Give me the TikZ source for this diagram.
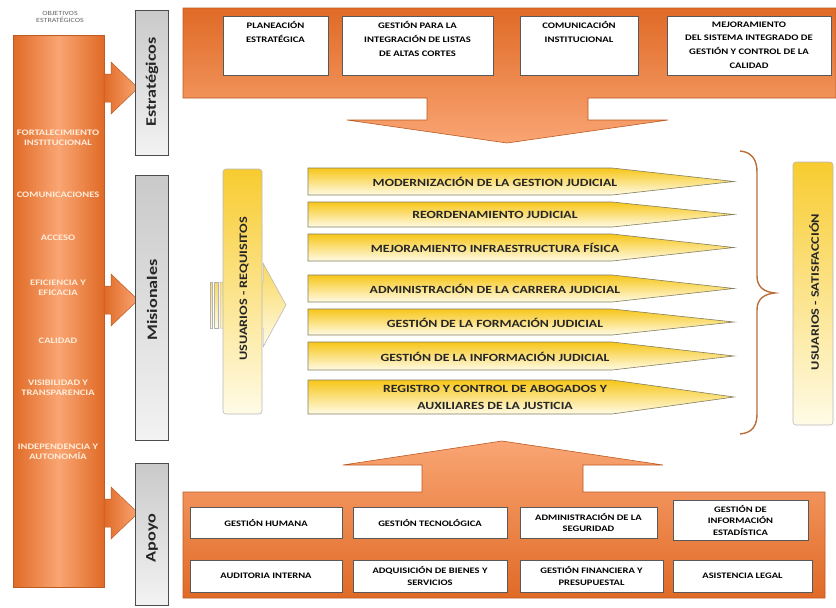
\documentclass[tikz,border=0pt]{standalone}
\usepackage{fontspec}
\setmainfont{Carlito}
\newfontfamily\widefont[FakeStretch=1.25]{Carlito}
\begin{document}
\begin{tikzpicture}[x=1pt,y=-1pt,
  orgA/.style={top color=orDark,bottom color=orLight,draw=orEdge,line width=0.6pt},
  orgB/.style={top color=orLight,bottom color=orDark,draw=orEdge,line width=0.6pt},
  col/.style={left color=orDark,right color=orDark,middle color=orLight,draw=orEdge,line width=0.6pt},
  bar/.style={top color=gray!42,bottom color=gray!10,draw=gray!60!black,line width=0.7pt},
  barlab/.style={rotate=90,font=\widefont\fontsize{14.5}{14.5}\selectfont\bfseries,text=black!85},
  wbox/.style={fill=white,draw=black!65,line width=0.7pt},
  wtxt/.style={font=\widefont\fontsize{8.5}{13.8}\selectfont\bfseries,align=center,text=black},
  btxt/.style={font=\widefont\fontsize{8.4}{11.5}\selectfont\bfseries,align=center,text=black},
  coltxt/.style={font=\widefont\fontsize{8.4}{10}\selectfont\bfseries,align=center,text=white!85!orange},
  banner/.style={top color=yel,bottom color=cream,draw=olive!40!black!70,line width=0.6pt},
  bantxt/.style={font=\widefont\fontsize{11}{16.5}\selectfont\bfseries,align=center,text=black!85},
  ubox/.style={top color=yel!90,bottom color=cream,draw=gray!55,line width=0.6pt,rounded corners=3pt},
  utxt/.style={rotate=90,font=\widefont\fontsize{11.4}{11.4}\selectfont\bfseries,text=black!85},
  brace/.style={draw=braceC,line width=1.4pt}]
\definecolor{orDark}{RGB}{224,106,38}
\definecolor{orLight}{RGB}{249,165,115}
\definecolor{orEdge}{RGB}{190,90,35}
\definecolor{yel}{RGB}{247,198,25}
\definecolor{cream}{RGB}{255,251,230}
\definecolor{braceC}{RGB}{185,110,60}
\useasboundingbox (0,0) rectangle (836,608);
\fill[white] (0,0) rectangle (836,608);

% left column
\node[font=\widefont\fontsize{6.4}{7.5}\selectfont,align=center,text=black!60] (objt) at (60,17) {OBJETIVOS\\ESTRATÉGICOS};
\path[col] (13,35) rectangle (104,587);
\node[coltxt] (c1) at (58,138) {FORTALECIMIENTO\\INSTITUCIONAL};
\node[coltxt] (c2) at (58,195) {COMUNICACIONES};
\node[coltxt] (c3) at (58,238) {ACCESO};
\node[coltxt] (c4) at (58,288) {EFICIENCIA Y\\EFICACIA};
\node[coltxt] (c5) at (58,341) {CALIDAD};
\node[coltxt] (c6) at (58,388) {VISIBILIDAD Y\\TRANSPARENCIA};
\node[coltxt] (c7) at (58,452) {INDEPENDENCIA Y\\AUTONOMÍA};

% left arrows
\foreach \yc in {88,300,513}{
  \path[left color=orDark,right color=orLight,draw=orEdge,line width=0.5pt]
    (104,\yc-14) -- (111,\yc-14) -- (111,\yc-26) -- (138,\yc) -- (111,\yc+26) -- (111,\yc+14) -- (104,\yc+14) -- cycle;
}

% gray bars
\path[bar] (135,10) rectangle (168,155);
\node[barlab] (est) at (152,82) {Estratégicos};
\path[bar] (135,175) rectangle (168,440);
\node[barlab] (mis) at (152,300) {Misionales};
\path[bar] (135,463) rectangle (168,605);
\node[barlab] (apo) at (152,538) {Apoyo};

% top block with down arrow
\path[orgA] (183,8) -- (836,8) -- (836,98) -- (588,98) -- (588,120) -- (668,120) -- (507,143)
  -- (347,120) -- (427,120) -- (427,98) -- (183,98) -- cycle;
\path[wbox] (223,16) rectangle (328,75);
\path[wbox] (342,16) rectangle (493,75);
\path[wbox] (520,16) rectangle (638,75);
\path[wbox] (667,16) rectangle (831,75);
\node[wtxt,anchor=north] (t1) at (275.5,18) {PLANEACIÓN\\ESTRATÉGICA};
\node[wtxt,anchor=north] (t2) at (417.5,18) {GESTIÓN PARA LA\\INTEGRACIÓN DE LISTAS\\DE ALTAS CORTES};
\node[wtxt,anchor=north] (t3) at (579,18) {COMUNICACIÓN\\INSTITUCIONAL};
\node[wtxt,anchor=north] (t4) at (749,18) {MEJORAMIENTO\\DEL SISTEMA INTEGRADO DE\\GESTIÓN Y CONTROL DE LA\\CALIDAD};

% requisitos arrow and box
\path[top color=yel!70,bottom color=cream,draw=gray!60,line width=0.5pt] (210,282) rectangle (212,328);
\path[top color=yel!70,bottom color=cream,draw=gray!60,line width=0.5pt] (214,282) rectangle (218,328);
\path[top color=yel!70,bottom color=cream,draw=gray!60,line width=0.5pt]
  (220,282) -- (263,282) -- (263,263) -- (286,305) -- (263,347) -- (263,328) -- (220,328) -- cycle;
\path[ubox] (223,169) rectangle (262,414);
\node[utxt] (req) at (244,289) {USUARIOS - REQUISITOS};

% banners
\foreach \ya/\yb/\nm/\tx in {
  168/195/b1/{MODERNIZACIÓN DE LA GESTION JUDICIAL},
  202/227/b2/{REORDENAMIENTO JUDICIAL},
  234/261/b3/{MEJORAMIENTO INFRAESTRUCTURA FÍSICA},
  275/302/b4/{ADMINISTRACIÓN DE LA CARRERA JUDICIAL},
  309/335/b5/{GESTIÓN DE LA FORMACIÓN JUDICIAL},
  342/370/b6/{GESTIÓN DE LA INFORMACIÓN JUDICIAL},
  380/414/b7/{REGISTRO Y CONTROL DE ABOGADOS Y\\AUXILIARES DE LA JUSTICIA}}{
  \path[banner] (308,\ya) -- (612,\ya) -- (734,{(\ya+\yb)/2}) -- (612,\yb) -- (308,\yb) -- cycle;
  \node[bantxt] (\nm) at (495,{(\ya+\yb)/2+0.5}) {\tx};
}

% brace
\path[brace] (740,151) .. controls (752,152) and (757,160) .. (757,172) -- (757,276)
  .. controls (757,287) and (764,292) .. (775,293) .. controls (764,294) and (757,299) .. (757,310)
  -- (757,414) .. controls (757,426) and (752,433) .. (740,434);

% satisfaccion box
\path[ubox] (793,162) rectangle (833,425);
\node[utxt] (sat) at (814,292) {USUARIOS - SATISFACCIÓN};

% bottom block with up arrow
\path[orgB] (502,441) -- (663,465) -- (583,465) -- (583,492) -- (825,492) -- (825,598)
  -- (183,598) -- (183,492) -- (422,492) -- (422,465) -- (343,465) -- cycle;
\path[wbox] (190,507) rectangle (342,538);
\path[wbox] (353,507) rectangle (507,538);
\path[wbox] (520,507) rectangle (657,538);
\path[wbox] (673,500) rectangle (808,540);
\path[wbox] (190,560) rectangle (342,592);
\path[wbox] (353,560) rectangle (507,592);
\path[wbox] (520,560) rectangle (663,592);
\path[wbox] (673,560) rectangle (812,592);
\node[btxt] (a1) at (266,522.5) {GESTIÓN HUMANA};
\node[btxt] (a2) at (430,522.5) {GESTIÓN TECNOLÓGICA};
\node[btxt] (a3) at (588.5,522.5) {ADMINISTRACIÓN DE LA\\SEGURIDAD};
\node[btxt] (a4) at (740.5,520) {GESTIÓN DE\\INFORMACIÓN\\ESTADÍSTICA};
\node[btxt] (a5) at (266,576) {AUDITORIA INTERNA};
\node[btxt] (a6) at (430,576) {ADQUISICIÓN DE BIENES Y\\SERVICIOS};
\node[btxt] (a7) at (591.5,576) {GESTIÓN FINANCIERA Y\\PRESUPUESTAL};
\node[btxt] (a8) at (742.5,576) {ASISTENCIA LEGAL};
\end{tikzpicture}
\end{document}
